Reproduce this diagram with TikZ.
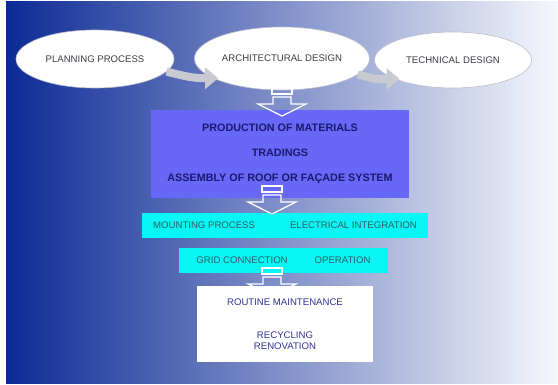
\documentclass[tikz,border=0pt]{standalone}
\usepackage{fontspec}
\setmainfont{Liberation Sans}
\usetikzlibrary{shapes.geometric, arrows.meta}

\definecolor{bgleft}{RGB}{12,42,150}
\definecolor{bgmid}{RGB}{125,145,205}
\definecolor{bgright}{RGB}{246,248,252}
\definecolor{phaseline}{RGB}{185,190,205}
\definecolor{phasetext}{RGB}{60,60,70}
\definecolor{flowgray}{RGB}{200,202,208}
\definecolor{matfill}{RGB}{104,104,248}
\definecolor{mattext}{RGB}{25,25,110}
\definecolor{mountfill}{RGB}{10,245,245}
\definecolor{mounttext}{RGB}{45,95,95}
\definecolor{caretext}{RGB}{50,50,150}

\begin{document}
\begin{tikzpicture}[x=1pt, y=-1pt,
    hollowdown/.pic={
        \draw[white, line width=1.2pt] (-10,-14) rectangle (10,-8);
        \draw[white, line width=1.2pt] (-9,-5) -- (9,-5) -- (9,2) -- (24,2) -- (0,14) -- (-24,2) -- (-9,2) -- cycle;
    }] %Cycle de vie
    			\tikzstyle{phase} = [ellipse, draw=phaseline, line width=0.6pt, fill=white, text=phasetext, inner sep=0pt, font=\fontsize{9.6}{11}\selectfont]
    			\tikzstyle{stepbox} = [rectangle, inner sep=0pt, align=center, font=\fontsize{9.6}{11}\selectfont]
    			\tikzstyle{flowarrow} = [draw=flowgray, line width=8pt, -{Triangle[length=13pt, width=21pt]}, shorten >=-5pt]
    			\useasboundingbox (0,0) rectangle (558,385);
    			\shade[left color=bgleft, middle color=bgmid, right color=bgright] (6,2) rectangle (558,384);
    			\node[phase, minimum width=158pt, minimum height=58pt] (planning) at (95,59) {PLANNING PROCESS};
    			\node[phase, minimum width=175pt, minimum height=63pt] (arch) at (282,58.5) {ARCHITECTURAL DESIGN};
    			\node[phase, minimum width=157pt, minimum height=56pt] (technical) at (453,60) {TECHNICAL DESIGN};
    			\draw[flowarrow] (planning.-10) .. controls +(20,5) and +(-20,0) .. (arch.196);
    			\draw[flowarrow] (arch.-12) .. controls +(20,5) and +(-20,0) .. (technical.198);
    			\node[stepbox, fill=matfill, minimum width=258pt, minimum height=88pt, text=mattext, font=\bfseries\fontsize{10.8}{13}\selectfont] (materials) at (280,154) {PRODUCTION OF MATERIALS\\[12pt]TRADINGS\\[12pt]ASSEMBLY OF ROOF OR FAÇADE SYSTEM};
    			\node[stepbox, fill=mountfill, minimum width=286pt, minimum height=25pt, text=mounttext] (mounting) at (285,225.5) {MOUNTING PROCESS\hspace{35pt}ELECTRICAL INTEGRATION};
    			\node[stepbox, fill=mountfill, minimum width=209pt, minimum height=25pt, text=mounttext] (grid) at (283.5,260.5) {GRID CONNECTION\hspace{27pt}OPERATION};
    			\node[stepbox, fill=white, minimum width=176pt, minimum height=76pt, text=caretext] (maintenance) at (285,324) {ROUTINE MAINTENANCE\\[22pt]RECYCLING\\RENOVATION};
    			\foreach \px/\py in {282/102, 272/200, 272/282}
   			{
       			\pic at (\px,\py) {hollowdown};
    			}
		\end{tikzpicture}
\end{document}
